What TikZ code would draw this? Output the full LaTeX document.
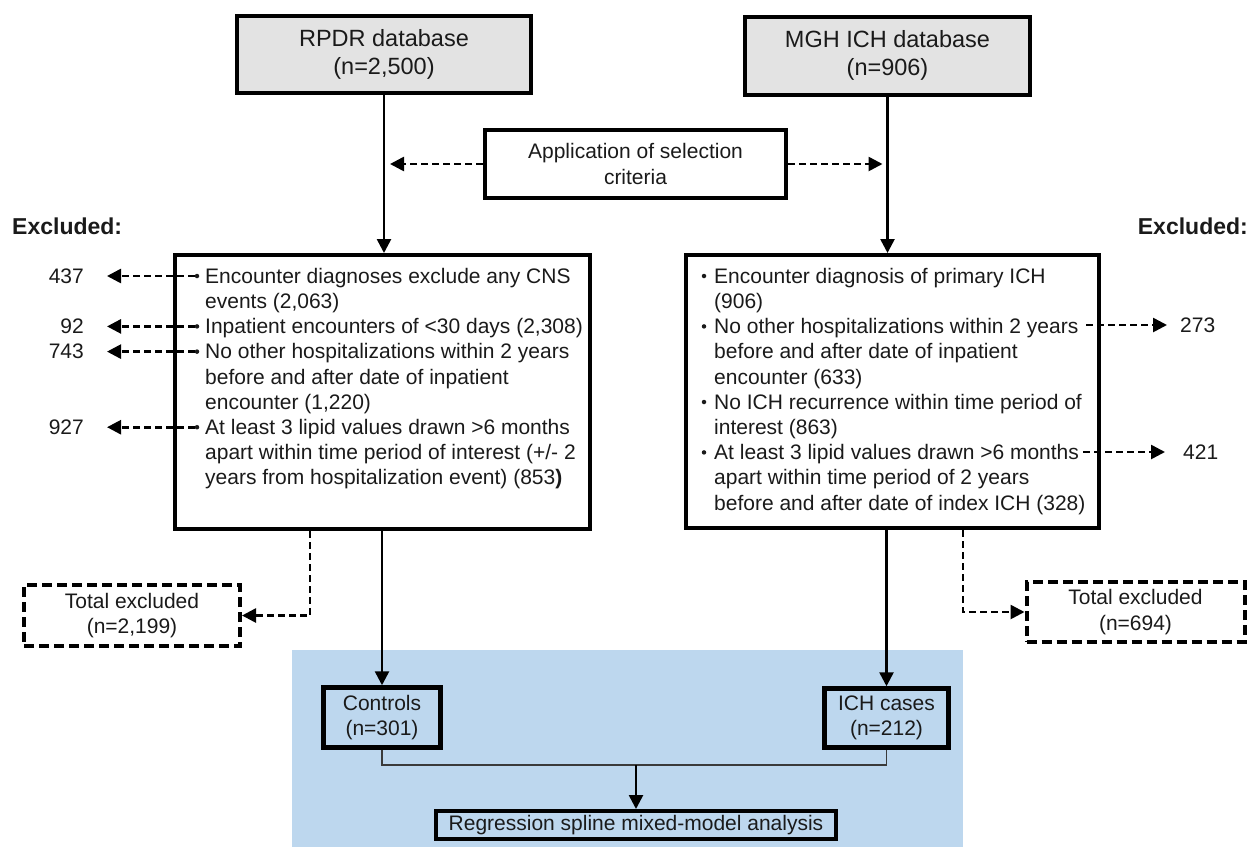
\documentclass[tikz,border=0pt]{standalone}
\usepackage{fontspec}
\setmainfont{Liberation Sans}
\usetikzlibrary{arrows.meta}
\definecolor{boxgray}{HTML}{E3E3E3}
\definecolor{bgblue}{HTML}{BDD7EE}
\definecolor{ink}{HTML}{1A1A1A}
\definecolor{thinline}{HTML}{3A3A3A}
\begin{document}
\begin{tikzpicture}[x=1pt,y=-1pt,
  txt/.style={font=\fontsize{21}{25.2}\selectfont, text=ink},
  ttl/.style={font=\fontsize{23.5}{28}\selectfont, text=ink},
  box/.style={txt, draw=black, line width=4pt, rectangle, inner sep=0pt, align=center},
  titlebox/.style={box, ttl, fill=boxgray},
  dbox/.style={box, line width=4pt, dash pattern=on 10pt off 5pt},
  item/.style={txt, anchor=north west, align=left, inner sep=0pt},
  bul/.style={circle, fill=ink, inner sep=0pt, minimum size=4.5pt},
  num/.style={txt, inner sep=0pt},
  exl/.style={font=\fontsize{23}{27}\selectfont\bfseries, text=ink, inner sep=0pt},
  conn/.style={line width=2.6pt, -{Triangle[length=14pt,width=14pt]}},
  dconn/.style={line width=2.6pt, dash pattern=on 7pt off 4pt, -{Triangle[length=14pt,width=14pt]}},
  thinc/.style={line width=1.6pt, draw=thinline}
]
\useasboundingbox (0,0) rectangle (1250,847);
% blue analysis area
\fill[bgblue] (292,650) rectangle (963,847);

% title boxes
\node[titlebox, minimum width=294pt, minimum height=77pt] (rpdr) at (384,54.5) {RPDR database\\(n=2,500)};
\node[titlebox, minimum width=285pt, minimum height=78pt] (mgh) at (887.5,55.5) {MGH ICH database\\(n=906)};
\node[box, minimum width=301pt, minimum height=68pt] (app) at (635.5,164) {Application of selection\\criteria};

% criteria boxes
\node[box, minimum width=415pt, minimum height=274pt] (lbox) at (382.5,392) {};
\node[box, minimum width=413pt, minimum height=273pt] (rbox) at (892.5,391.5) {};

% excluded labels
\node[exl, anchor=west] (exL) at (12,226) {Excluded:};
\node[exl, anchor=east] (exR) at (1248,226) {Excluded:};

% left items
\node[bul] (lb1) at (197,276) {};
\node[item] (l1) at (205,265.4) {\strut Encounter diagnoses exclude any CNS\\events (2,063)};
\node[bul] (lb2) at (197,326.4) {};
\node[item] (l2) at (205,315.8) {\strut Inpatient encounters of <30 days (2,308)};
\node[bul] (lb3) at (197,351.6) {};
\node[item] (l3) at (205,341) {\strut No other hospitalizations within 2 years\\before and after date of inpatient\\encounter (1,220)};
\node[bul] (lb4) at (197,427.2) {};
\node[item] (l4) at (205,416.6) {\strut At least 3 lipid values drawn >6 months\\apart within time period of interest (+/- 2\\years from hospitalization event) (853\textbf{)}};

% left numbers
\node[num, anchor=east] (n437) at (84,276) {437};
\node[num, anchor=east] (n92) at (84,326.4) {92};
\node[num, anchor=east] (n743) at (84,351.6) {743};
\node[num, anchor=east] (n927) at (84,427.2) {927};

% right items
\node[bul] (rb1) at (704,276) {};
\node[item] (r1) at (714,265.4) {\strut Encounter diagnosis of primary ICH\\(906)};
\node[bul] (rb2) at (704,326.4) {};
\node[item] (r2) at (714,315.8) {\strut No other hospitalizations within 2 years\\before and after date of inpatient\\encounter (633)};
\node[bul] (rb3) at (704,402) {};
\node[item] (r3) at (714,391.4) {\strut No ICH recurrence within time period of\\interest (863)};
\node[bul] (rb4) at (704,452.4) {};
\node[item] (r4) at (714,441.8) {\strut At least 3 lipid values drawn >6 months\\apart within time period of 2 years\\before and after date of index ICH (328)};

% right numbers
\node[num, anchor=west] (n273) at (1180,325) {273};
\node[num, anchor=west] (n421) at (1183,452) {421};
\coordinate (r2s) at (1086,325);
\coordinate (r4s) at (1083,452);

% total excluded boxes
\node[dbox, minimum width=216pt, minimum height=61pt] (ltot) at (132,615.5) {Total excluded\\(n=2,199)};
\node[dbox, minimum width=218pt, minimum height=60pt] (rtot) at (1135.5,612) {Total excluded\\(n=694)};

% final boxes
\node[box, line width=4.5pt, minimum width=117pt, minimum height=60pt] (ctrl) at (382,717.5) {Controls\\(n=301)};
\node[box, line width=4.5pt, minimum width=124pt, minimum height=59pt] (ich) at (886.5,718) {ICH cases\\(n=212)};
\node[box, minimum width=400pt, minimum height=28pt] (reg) at (636,825) {Regression spline mixed-model analysis};
\coordinate (join) at (636,765);

% connectors
\draw[conn] (rpdr.south) -- (rpdr.south |- lbox.north);
\draw[conn] (mgh.south) -- (mgh.south |- rbox.north);
\draw[dconn, shorten >=6pt] (app.west) -- (app.west -| rpdr.south);
\draw[dconn, shorten >=5pt] (app.east) -- (app.east -| mgh.south);

\draw[dconn, shorten >=23pt] (lb1.west) -- (n437.east);
\draw[dconn, shorten >=23pt] (lb2.west) -- (n92.east);
\draw[dconn, shorten >=23pt] (lb3.west) -- (n743.east);
\draw[dconn, shorten >=23pt] (lb4.west) -- (n927.east);

\draw[dconn, shorten >=13pt] (r2s) -- (n273.west);
\draw[dconn, shorten >=18pt] (r4s) -- (n421.west);

\draw[dconn] ([xshift=-72.5pt]lbox.south) |- (ltot.east);
\draw[dconn] ([xshift=70.5pt]rbox.south) |- (rtot.west);

\draw[conn] (ctrl.north |- lbox.south) -- (ctrl.north);
\draw[conn] (ich.north |- rbox.south) -- (ich.north);

\draw[thinc] (ctrl.south) |- (join) -| (ich.south);
\draw[conn] (join) -- (reg.north);
\end{tikzpicture}
\end{document}
